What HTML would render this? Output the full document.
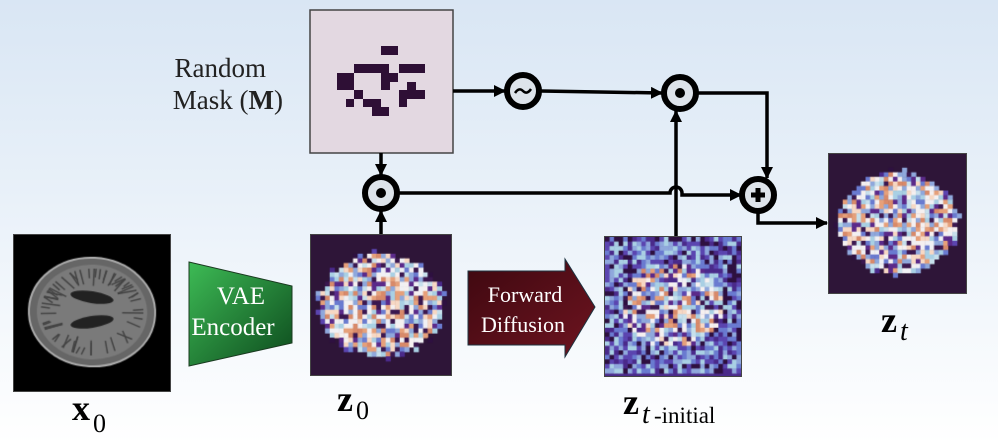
<!DOCTYPE html>
<html><head><meta charset="utf-8"><style>
html,body{margin:0;padding:0}
body{width:998px;height:444px;position:relative;overflow:hidden;background:linear-gradient(#d9e6f4 0%,#e9f1f9 45%,#ffffff 100%);font-family:"Liberation Serif",serif}
canvas{position:absolute;border:1.5px solid #444;box-sizing:border-box}
</style></head><body>
<canvas id="x0" width="158" height="158" style="left:13px;top:234px;width:158px;height:158px"></canvas>
<canvas id="z0" width="142" height="142" style="left:310px;top:234px;width:142px;height:142px"></canvas>
<canvas id="zi" width="138" height="141" style="left:604px;top:236px;width:138px;height:141px"></canvas>
<canvas id="zt" width="139" height="141" style="left:828px;top:153px;width:139px;height:141px"></canvas>
<svg width="998" height="444" style="position:absolute;left:0;top:0">
<defs>
<marker id="a" markerWidth="12" markerHeight="12" refX="11" refY="6" orient="auto" markerUnits="userSpaceOnUse"><path d="M0,0 L12,6 L0,12z" fill="#000"/></marker>
<linearGradient id="g" x1="0" y1="0" x2="1" y2="1"><stop offset="0" stop-color="#3dbb55"/><stop offset="1" stop-color="#0d4a1d"/></linearGradient>
<linearGradient id="r" x1="0" y1="0" x2="1" y2="1"><stop offset="0" stop-color="#3e0810"/><stop offset="1" stop-color="#6e1420"/></linearGradient>
</defs>
<rect x="310" y="10" width="143" height="143" fill="#e3d8e1" stroke="#444" stroke-width="1.5"/>
<g fill="#2e0f35">
<rect x="381" y="46" width="17" height="9"/><rect x="354" y="64" width="35" height="9"/><rect x="399" y="64" width="26" height="9"/>
<rect x="337" y="73" width="17" height="17"/><rect x="381" y="73" width="17" height="9"/><rect x="381" y="82" width="9" height="8"/>
<rect x="407" y="82" width="9" height="8"/><rect x="399" y="90" width="26" height="9"/><rect x="354" y="90" width="9" height="9"/>
<rect x="346" y="99" width="8" height="8"/><rect x="363" y="99" width="18" height="8"/><rect x="399" y="99" width="8" height="8"/>
<rect x="372" y="107" width="9" height="9"/><rect x="381" y="107" width="8" height="9"/>
</g>
<polygon points="189,262 292,286 292,343 189,366" fill="url(#g)" stroke="#1a3a20" stroke-width="1"/>
<polygon points="468,271 565,271 565,259 595,307 565,357 565,345 468,345" fill="url(#r)" stroke="#1d3340" stroke-width="1"/>
<g stroke="#000" stroke-width="3.5" fill="none">
<path d="M453,91 L505,91" marker-end="url(#a)"/>
<path d="M541,91 L662,93" marker-end="url(#a)"/>
<path d="M698,93 L767,93 L767,178" marker-end="url(#a)"/>
<path d="M381,153 L381,175" marker-end="url(#a)"/>
<path d="M381,234 L381,211" marker-end="url(#a)"/>
<path d="M676,236 L676,111" marker-end="url(#a)"/>
<path d="M399,193 L670,193 A6,6 0 0 1 682,193 L682,195 L741,195" marker-end="url(#a)"/>
<path d="M758,212 L758,223 L827,223" marker-end="url(#a)"/>
</g>
<g stroke="#000" stroke-width="6" fill="#dde3ea">
<circle cx="381" cy="193" r="16"/><circle cx="523" cy="91" r="16"/><circle cx="680" cy="93" r="16"/><circle cx="758" cy="195" r="16"/>
</g>
<g fill="#000"><circle cx="381" cy="193" r="5"/><circle cx="680" cy="93" r="5"/></g>
<path d="M751,195 h14 M758,188 v14" stroke="#000" stroke-width="5"/>
<path d="M515,93 q4,-6 8,-2 t8,-2" stroke="#000" stroke-width="2.5" fill="none"/>
<text x="241" y="304" fill="#fff" font-size="25" text-anchor="middle" font-family="Liberation Serif">VAE</text>
<text x="233" y="335" fill="#fff" font-size="25" text-anchor="middle" font-family="Liberation Serif">Encoder</text>
<text x="525" y="302" fill="#fff" font-size="22" text-anchor="middle" font-family="Liberation Serif">Forward</text>
<text x="523" y="332" fill="#fff" font-size="22" text-anchor="middle" font-family="Liberation Serif">Diffusion</text>
<text x="266" y="77" fill="#222" font-size="27" text-anchor="end" font-family="Liberation Serif">Random</text>
<text x="283" y="109" fill="#222" font-size="27" text-anchor="end" font-family="Liberation Serif">Mask (<tspan font-weight="bold">M</tspan>)</text>
<text x="72" y="420" font-size="36" font-weight="bold" font-family="Liberation Serif">x</text><text x="93" y="432" font-size="26" font-family="Liberation Serif">0</text>
<text x="337" y="411" font-size="36" font-weight="bold" font-family="Liberation Serif">z</text><text x="356" y="419" font-size="26" font-family="Liberation Serif">0</text>
<text x="623" y="414" font-size="36" font-weight="bold" font-family="Liberation Serif">z</text><text x="642" y="423" font-size="28" font-style="italic" font-family="Liberation Serif">t</text><text x="654" y="423" font-size="23" font-family="Liberation Serif">-initial</text>
<text x="881" y="332" font-size="36" font-weight="bold" font-family="Liberation Serif">z</text><text x="900" y="340" font-size="28" font-style="italic" font-family="Liberation Serif">t</text>
</svg>
<script>
var s=7;function rnd(){s=(s*16807)%2147483647;return s/2147483647;}
var pal=["#f5f0f0","#a9d0e4","#e6a07a","#6a7bd0","#5b2a8a","#c7e0ec","#f7d8c4","#8fa8dc","#3b1850","#f0f0f4","#d88a6a"];
function lat(id,bg,noiseOut){var c=document.getElementById(id),x=c.getContext("2d"),w=c.width,h=c.height;x.fillStyle=bg;x.fillRect(0,0,w,h);var n=30,cs=w/n;
for(var i=0;i<n;i++)for(var j=0;j<n;j++){var dx=(i+0.5-n/2)/(n*0.43),dy=(j+0.5-n/2)/(n*0.36),d=dx*dx+dy*dy;var inside=d<1;
if(noiseOut){inside=d<0.75&&rnd()<0.85;}
if(inside||noiseOut||(d<1.15&&rnd()<0.4)){x.fillStyle=inside?pal[Math.floor(rnd()*pal.length)]:["#4a2a8a","#6a7bd0","#a9d0e4","#2e1040","#5b45b0","#8fa8dc"][Math.floor(rnd()*6)];x.fillRect(i*cs,j*cs,cs+0.5,cs+0.5);}}}
lat("z0","#2e1538",false);lat("zt","#2e1538",false);lat("zi","#4a2a8a",true);
var c=document.getElementById("x0"),x=c.getContext("2d");x.fillStyle="#000";x.fillRect(0,0,158,158);
x.fillStyle="#666";x.beginPath();x.ellipse(79,78,64,55,0.05,0,7);x.fill();
x.strokeStyle="#aaa";x.lineWidth=2;x.beginPath();x.ellipse(79,78,64,55,0.05,0,7);x.stroke();
x.fillStyle="#7a7a7a";x.beginPath();x.ellipse(79,78,56,48,0.05,0,7);x.fill();
x.strokeStyle="#444";x.lineWidth=1.5;for(var k=0;k<60;k++){x.beginPath();var a=rnd()*6.28;x.moveTo(79+Math.cos(a)*52,78+Math.sin(a)*44);x.lineTo(79+Math.cos(a)*(30+rnd()*15),78+Math.sin(a)*(26+rnd()*12));x.stroke();}
x.fillStyle="#222";x.beginPath();x.ellipse(79,63,22,6,0.15,0,7);x.fill();x.beginPath();x.ellipse(79,88,22,6,-0.15,0,7);x.fill();
</script>
</body></html>
